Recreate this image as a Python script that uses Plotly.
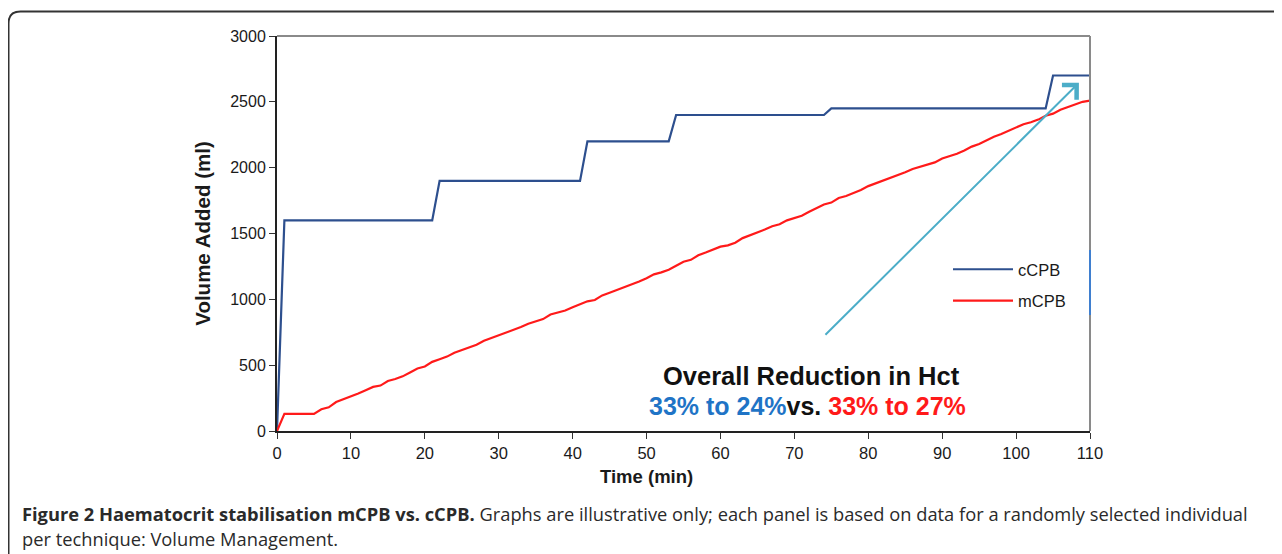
import plotly.graph_objects as go

# ---- data ----
ccpb_time = [0, 1, 21, 22, 41, 42, 53, 54, 74, 75, 104, 105, 110]
ccpb_vol = [0, 1600, 1600, 1900, 1900, 2200, 2200, 2400, 2400, 2450, 2450, 2700, 2700]

mcpb_time = list(range(0, 111))
mcpb_vol = [0, 130, 130, 130, 130, 130, 165, 180, 220, 240,
            260, 285, 310, 335, 345, 380, 395, 415, 445, 475,
            490, 525, 545, 565, 595, 615, 630, 655, 685, 705,
            730, 745, 770, 790, 815, 830, 850, 885, 900, 915,
            940, 965, 985, 995, 1030, 1050, 1070, 1095, 1115, 1135,
            1160, 1190, 1205, 1225, 1255, 1285, 1300, 1335, 1355, 1375,
            1400, 1410, 1430, 1465, 1485, 1505, 1530, 1555, 1570, 1600,
            1620, 1635, 1665, 1690, 1720, 1735, 1770, 1785, 1805, 1830,
            1860, 1880, 1900, 1920, 1945, 1965, 1990, 2005, 2020, 2040,
            2070, 2085, 2105, 2130, 2160, 2180, 2210, 2235, 2255, 2280,
            2310, 2330, 2345, 2365, 2395, 2410, 2440, 2460, 2480, 2500,
            2510]

x_ticks = [0, 10, 20, 30, 40, 50, 60, 70, 80, 90, 100, 110]
y_ticks = [0, 500, 1000, 1500, 2000, 2500, 3000]

arrow_start = (74, 720)
arrow_end = (108.5, 2645)

# ---- layout geometry (reference pixels) ----
W, H = 1282, 554
OFF = 8  # page body margin of the html output
L, R, T, B = 277, 1090, 36, 431
pw, ph = R - L, B - T


def px(x):
    return (x - L) / pw


def py(y):
    return (B - y) / ph


fig = go.Figure()
fig.add_trace(go.Scatter(x=ccpb_time, y=ccpb_vol, mode="lines", name="cCPB",
                         line=dict(color="#2d4f8e", width=2.2), legendgroup="a"))
fig.add_trace(go.Scatter(x=mcpb_time, y=mcpb_vol, mode="lines", name="mCPB",
                         line=dict(color="#ff1a1a", width=2.2), legendgroup="b"))

font_fam = "Liberation Sans, Arial, sans-serif"

fig.update_layout(
    width=W, height=H,
    margin=dict(l=L - OFF, r=W - (R - OFF), t=T - OFF, b=H - (B - OFF), pad=0),
    paper_bgcolor="white", plot_bgcolor="white",
    font=dict(family=font_fam, color="#1a1a1a", size=16),
    showlegend=True,
    legend=dict(x=px(948), y=py(252), xanchor="left", yanchor="top",
                bgcolor="rgba(0,0,0,0)", font=dict(size=16.5, color="#1a1a1a"),
                tracegroupgap=7, itemwidth=60),
    xaxis=dict(range=[0, 110], tickvals=x_ticks, ticks="outside", ticklen=6,
               tickcolor="#333", showline=True, linecolor="#222", linewidth=2,
               showgrid=False, zeroline=False, tickfont=dict(size=16.5)),
    yaxis=dict(range=[0, 3000], tickvals=y_ticks, ticks="outside", ticklen=6,
               tickcolor="#333", showline=True, linecolor="#222", linewidth=2,
               showgrid=False, zeroline=False,
               title=dict(text="<b>Volume Added (ml)</b>", font=dict(size=20.5), standoff=14)),
)

# x axis title (placed left of centre as in the reference)
fig.add_annotation(x=px(646), y=py(476), xref="paper", yref="paper",
                   text="<b>Time (min)</b>", showarrow=False,
                   font=dict(size=18.5, color="#1a1a1a", family=font_fam),
                   xanchor="center", yanchor="middle")

shapes = []
# top and right frame lines (grey)
shapes.append(dict(type="line", xref="paper", yref="paper", x0=0, x1=1, y0=1, y1=1,
                   line=dict(color="#8a8a8a", width=2)))
shapes.append(dict(type="line", xref="paper", yref="paper", x0=1, x1=1, y0=0, y1=1,
                   line=dict(color="#8a8a8a", width=2)))
# blue artefact on the right frame
shapes.append(dict(type="line", xref="paper", yref="paper", x0=px(1090), x1=px(1090),
                   y0=py(250), y1=py(315), line=dict(color="#3f7fcf", width=2)))
# rounded figure border
xl, yt = px(8.5), py(11.5)
xr, yb = px(1300), py(570)
rx, ry = 12 / pw, 12 / ph
path = (f"M {xl},{yb} L {xl},{yt - ry} Q {xl},{yt} {xl + rx},{yt} L {xr},{yt}")
shapes.append(dict(type="path", xref="paper", yref="paper", path=path,
                   line=dict(color="#333333", width=2)))
fig.update_layout(shapes=shapes)

# arrow
fig.add_annotation(x=arrow_end[0], y=arrow_end[1], ax=arrow_start[0], ay=arrow_start[1],
                   xref="x", yref="y", axref="x", ayref="y", text="",
                   showarrow=True, arrowhead=4, arrowsize=2, arrowwidth=2,
                   arrowcolor="#4cadc8")

# annotation text
fig.add_annotation(x=px(811), y=py(376), xref="paper", yref="paper",
                   text="Overall Reduction in Hct", showarrow=False,
                   font=dict(size=25.5, color="#111", family=font_fam, weight=600),
                   xanchor="center", yanchor="middle")
fig.add_annotation(x=px(807), y=py(406), xref="paper", yref="paper",
                   text="<span style='color:#1f74c6'>33% to 24%</span>vs. "
                        "<span style='color:#ff1a1a'>33% to 27%</span>",
                   showarrow=False,
                   font=dict(size=25, color="#111", family=font_fam, weight=600),
                   xanchor="center", yanchor="middle")

# caption
cap_font = dict(family="Open Sans, sans-serif", size=18.3, color="#2a2a2a")
fig.add_annotation(x=px(20), y=py(513), xref="paper", yref="paper", xanchor="left",
                   yanchor="middle", showarrow=False, font=cap_font,
                   text="<b>Figure 2 Haematocrit stabilisation mCPB vs. cCPB.</b> "
                        "Graphs are illustrative only; each panel is based on data for a "
                        "randomly selected individual")
fig.add_annotation(x=px(20), y=py(538), xref="paper", yref="paper", xanchor="left",
                   yanchor="middle", showarrow=False, font=cap_font,
                   text="per technique: Volume Management.")

fig.write_html("out.html")
